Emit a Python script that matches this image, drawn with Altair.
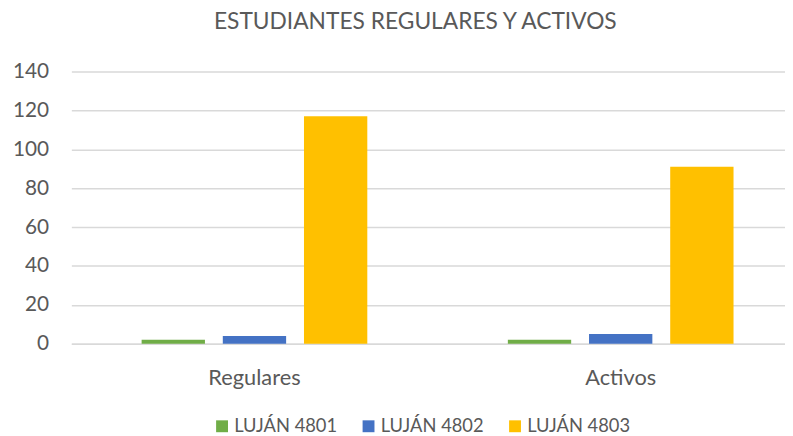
import altair as alt
import pandas as pd

categories = ["Regulares", "Activos"]
series = ["LUJÁN 4801", "LUJÁN 4802", "LUJÁN 4803"]
regulares = [2, 4, 117]
activos = [2, 5, 91]
colors = ["#70AD47", "#4472C4", "#FFC000"]
y_ticks = [0, 20, 40, 60, 80, 100, 120, 140]

rows = []
for cat, vals in zip(categories, [regulares, activos]):
    for s, v in zip(series, vals):
        rows.append({"categoria": cat, "serie": s, "valor": v})
df = pd.DataFrame(rows)

FONT = "Lato"
TXT = "#595959"
GRID = "#D9D9D9"

chart = (
    alt.Chart(df)
    .mark_bar()
    .encode(
        x=alt.X(
            "categoria:N",
            sort=categories,
            title=None,
            scale=alt.Scale(range=[0, 740], paddingInner=0.335, paddingOuter=0.1675),
            axis=alt.Axis(
                labelAngle=0,
                ticks=False,
                domain=True,
                domainColor=GRID,
                domainWidth=1.5,
                labelFont=FONT,
                labelFontSize=22,
                labelColor=TXT,
                labelPadding=24,
                grid=False,
            ),
        ),
        xOffset=alt.XOffset(
            "serie:N",
            sort=series,
            scale=alt.Scale(paddingInner=0.22, paddingOuter=0.11),
        ),
        y=alt.Y(
            "valor:Q",
            title=None,
            scale=alt.Scale(domain=[0, 140], nice=False),
            axis=alt.Axis(
                values=y_ticks,
                ticks=False,
                domain=False,
                grid=True,
                gridColor=GRID,
                gridWidth=1.5,
                labelFont=FONT,
                labelFontSize=21,
                labelColor=TXT,
                labelPadding=23,
            ),
        ),
        color=alt.Color(
            "serie:N",
            sort=series,
            scale=alt.Scale(domain=series, range=colors),
            legend=alt.Legend(
                title=None,
                orient="none",
                direction="horizontal",
                legendX=143,
                legendY=349,
                symbolType="square",
                symbolSize=144,
                symbolStrokeWidth=0,
                labelFont=FONT,
                labelFontSize=18.5,
                labelColor=TXT,
                labelOffset=3,
                columnPadding=22,
                padding=0,
            ),
        ),
    )
    .properties(
        width=721,
        height=275,
        title=alt.TitleParams(
            "ESTUDIANTES REGULARES Y ACTIVOS",
            font=FONT,
            fontSize=23,
            fontWeight="normal",
            color=TXT,
            anchor="middle",
            dx=-13,
            offset=9,
            baseline="alphabetic",
        ),
        autosize=alt.AutoSizeParams(type="none"),
        padding={"left": 64, "top": 62, "right": 0, "bottom": 91},
    )
    .configure_view(stroke=None)
)

chart.save("out.html", embed_options={"renderer": "svg", "actions": False})
